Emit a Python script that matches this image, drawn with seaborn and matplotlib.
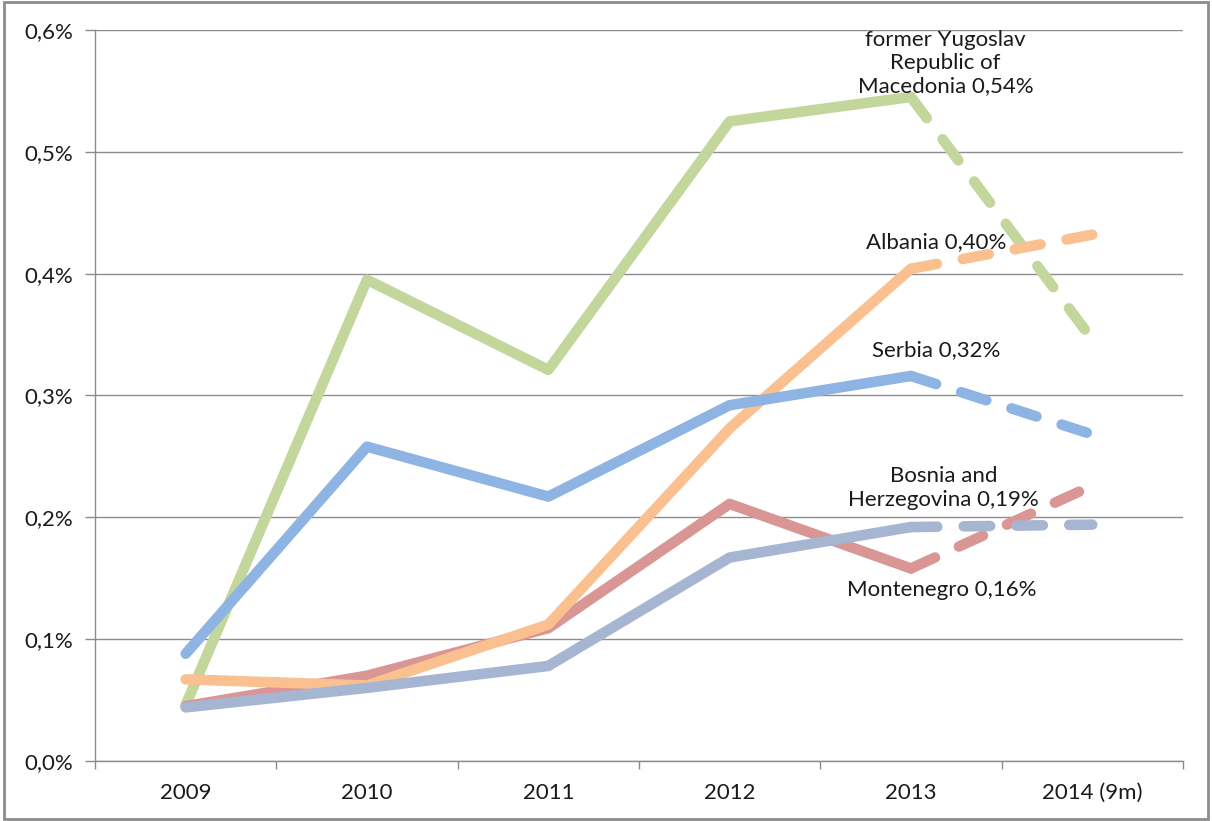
import pandas as pd
import matplotlib.pyplot as plt
import matplotlib.patches as mpatches
from matplotlib.ticker import FuncFormatter, FixedLocator
import seaborn as sns

years = ['2009', '2010', '2011', '2012', '2013', '2014 (9m)']
countries = ['Macedonia', 'Montenegro', 'Albania', 'Serbia', 'Bosnia']
macedonia = [0.046, 0.395, 0.321, 0.525, 0.545, 0.346]
montenegro = [0.045, 0.070, 0.109, 0.211, 0.158, 0.226]
albania = [0.067, 0.062, 0.112, 0.273, 0.404, 0.432]
serbia = [0.088, 0.258, 0.217, 0.292, 0.316, 0.268]
bosnia = [0.044, 0.060, 0.078, 0.167, 0.192, 0.194]
colors = ['#C3D69B', '#D99694', '#FAC090', '#8EB4E3', '#A6B6D2']

labels = ['former Yugoslav\nRepublic of\nMacedonia 0,54%', 'Montenegro 0,16%',
          'Albania 0,40%', 'Serbia 0,32%', 'Bosnia and\nHerzegovina 0,19%']
label_x = [4.19, 4.17, 4.14, 4.14, 4.18]
label_y = [0.573, 0.140, 0.426, 0.337, 0.224]

series = [macedonia, montenegro, albania, serbia, bosnia]
rows = []
for name, vals in zip(countries, series):
    for i, (yr, v) in enumerate(zip(years, vals)):
        if i <= 4:
            rows.append({'Year': yr, 'Value': v, 'Country': name, 'Part': 'actual'})
        if i >= 4:
            rows.append({'Year': yr, 'Value': v, 'Country': name, 'Part': 'partial'})
df = pd.DataFrame(rows)

sns.set_style('white')
plt.rcParams['font.family'] = ['Lato', 'DejaVu Sans']

fig = plt.figure(figsize=(12.12, 8.21), dpi=100)
ax = fig.add_axes([0.0784, 0.0731, 0.8976, 0.8904])

sns.lineplot(data=df, x='Year', y='Value', hue='Country', hue_order=countries,
             palette=colors, style='Part', dashes={'actual': '', 'partial': (2.5, 2.5)},
             linewidth=7.6, sort=False, legend=False, ax=ax,
             solid_capstyle='round', dash_capstyle='round', solid_joinstyle='round')

txt_color = '#1a1a1a'
fs = 16
for lab, lx, ly in zip(labels, label_x, label_y):
    ax.text(lx, ly, lab, ha='center', va='center', fontsize=fs, color=txt_color,
            linespacing=1.2)

ax.set_xlim(-0.5, 5.5)
ax.set_ylim(0, 0.6)
ax.set_yticks([0, 0.1, 0.2, 0.3, 0.4, 0.5, 0.6])
ax.yaxis.set_major_formatter(FuncFormatter(lambda v, p: f'{v:.1f}%'.replace('.', ',')))
ax.grid(axis='y', color='#8c8c8c', linewidth=1)
ax.set_axisbelow(True)

ax.set_xticks(range(len(years)))
ax.set_xticklabels(years)
ax.xaxis.set_minor_locator(FixedLocator([i - 0.5 for i in range(len(years) + 1)]))
ax.tick_params(axis='x', which='major', length=0, pad=16, labelsize=fs, colors=txt_color)
ax.tick_params(axis='x', which='minor', length=6, width=1, color='#8c8c8c', direction='out')
ax.tick_params(axis='y', length=7, width=1, color='#8c8c8c', pad=9, labelsize=fs,
               labelcolor=txt_color, direction='out')
ax.xaxis.set_tick_params(which='minor', bottom=True)
ax.yaxis.set_tick_params(left=True)

for s in ['top', 'right']:
    ax.spines[s].set_visible(False)
for s in ['left', 'bottom']:
    ax.spines[s].set_color('#8c8c8c')
    ax.spines[s].set_linewidth(1)

ax.set_xlabel('')
ax.set_ylabel('')

fig.add_artist(mpatches.Rectangle((0.003, 0.003), 0.994, 0.994, transform=fig.transFigure,
                                  fill=False, edgecolor='#8c8c8c', linewidth=2))

plt.savefig('out.png', dpi=100)
